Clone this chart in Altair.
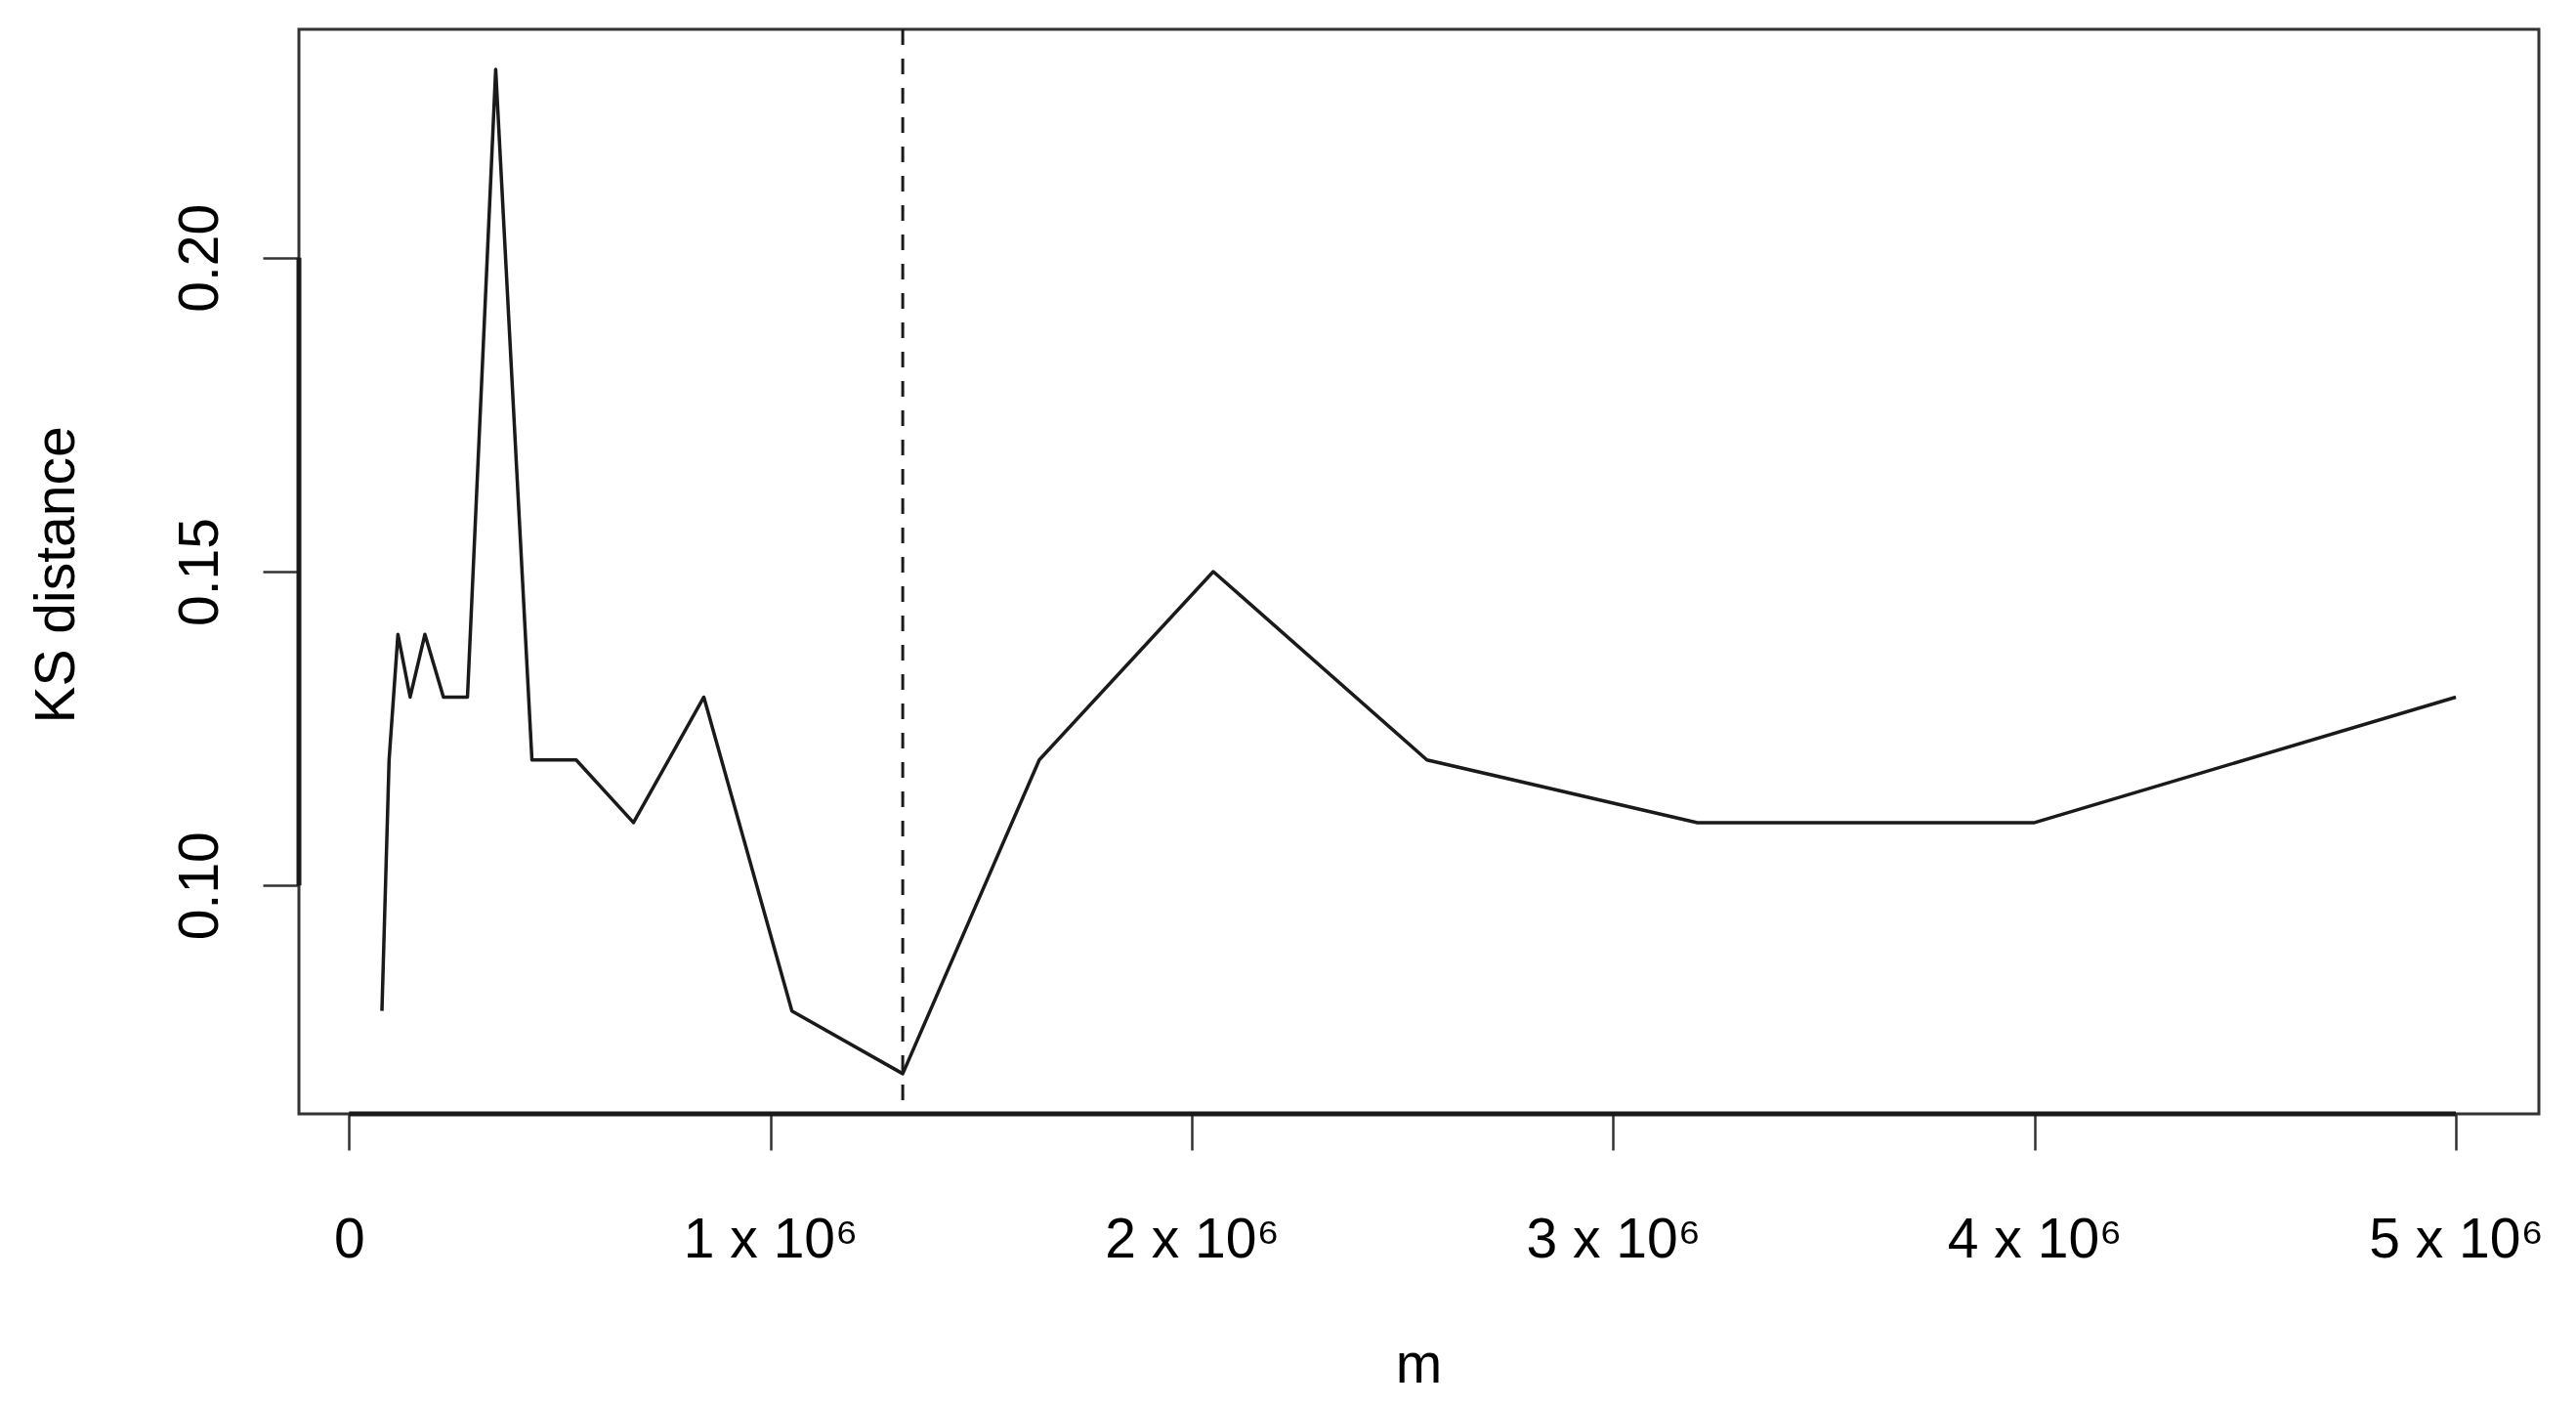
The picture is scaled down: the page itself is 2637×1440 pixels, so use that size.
import altair as alt
import pandas as pd

# Data
m_values = [78000, 95000, 116000, 145000, 180000, 224000, 281000, 348000,
            434000, 539000, 675000, 842000, 1051000, 1314000, 1638000,
            2051000, 2558000, 3200000, 4000000, 5000000]
ks_values = [0.08, 0.12, 0.14, 0.13, 0.14, 0.13, 0.13, 0.23, 0.12, 0.12,
             0.11, 0.13, 0.08, 0.07, 0.12, 0.15, 0.12, 0.11, 0.11, 0.13]
best_m = [1314000]

x_ticks = [0, 1000000, 2000000, 3000000, 4000000, 5000000]
y_ticks = [0.10, 0.15, 0.20]
x_domain = [-119000, 5197000]
y_domain = [0.0636, 0.2364]

FONT = "Liberation Sans"
FS = 57
INK = "#1a1a1a"

df = pd.DataFrame({"m": m_values, "ks": ks_values})
df_rule = pd.DataFrame({"m": best_m})
df_xaxis = pd.DataFrame({"x": [x_ticks[0]], "x2": [x_ticks[-1]], "y": [y_domain[0]]})
df_yaxis = pd.DataFrame({"y": [y_ticks[0]], "y2": [y_ticks[-1]], "x": [x_domain[0]]})

x_scale = alt.Scale(domain=x_domain, nice=False, zero=False)
y_scale = alt.Scale(domain=y_domain, nice=False, zero=False)

x_enc = alt.X(
    "m:Q",
    scale=x_scale,
    axis=alt.Axis(
        values=x_ticks,
        labelExpr="datum.value == 0 ? '0' : format(datum.value / 1000000, 'd') + ' x 10\u2076'",
        title="m",
        grid=False,
        domain=False,
        tickSize=37,
        tickWidth=2.5,
        tickColor="#333333",
        labelPadding=64,
        labelFont=FONT,
        labelFontSize=FS,
        labelColor="#000000",
        labelFlush=False,
        labelOverlap=False,
        labelBaseline="top",
        titleFont=FONT,
        titleFontSize=FS,
        titleFontWeight="normal",
        titleColor="#000000",
        titleX=1146,
        titleY=274,
        titleBaseline="alphabetic",
        titleAlign="center",
        titleAngle=0,
    ),
)

y_enc = alt.Y(
    "ks:Q",
    scale=y_scale,
    axis=alt.Axis(
        values=y_ticks,
        format=".2f",
        title="KS distance",
        grid=False,
        domain=False,
        tickSize=37,
        tickWidth=2.5,
        tickColor="#333333",
        labelPadding=47,
        labelAngle=270,
        labelAlign="center",
        labelBaseline="alphabetic",
        labelFont=FONT,
        labelFontSize=FS,
        labelColor="#000000",
        labelOverlap=False,
        titleFont=FONT,
        titleFontSize=FS,
        titleFontWeight="normal",
        titleColor="#000000",
        titleAngle=270,
        titleX=-231,
        titleY=558,
        titleAlign="center",
        titleBaseline="alphabetic",
    ),
)

line = alt.Chart(df).mark_line(color=INK, strokeWidth=3.5, strokeJoin="round").encode(x=x_enc, y=y_enc)

rule = alt.Chart(df_rule).mark_rule(
    color=INK, strokeWidth=3, strokeDash=[16, 14]
).encode(x=alt.X("m:Q"))

x_axis_line = alt.Chart(df_xaxis).mark_rule(color=INK, strokeWidth=5).encode(
    x=alt.X("x:Q", scale=x_scale), x2="x2:Q", y=alt.Y("y:Q", scale=y_scale)
)
y_axis_line = alt.Chart(df_yaxis).mark_rule(color=INK, strokeWidth=5).encode(
    y=alt.Y("y:Q", scale=y_scale), y2="y2:Q", x=alt.X("x:Q", scale=x_scale)
)

chart = (
    alt.layer(line, rule, x_axis_line, y_axis_line)
    .properties(
        width=2293,
        height=1110,
        padding={"left": 298, "top": 22, "right": 30, "bottom": 292},
        autosize=alt.AutoSizeParams(type="none"),
        background="white",
    )
    .configure_view(stroke="#333333", strokeWidth=3)
)

chart.save("out.html", embed_options={"renderer": "svg", "actions": False})
